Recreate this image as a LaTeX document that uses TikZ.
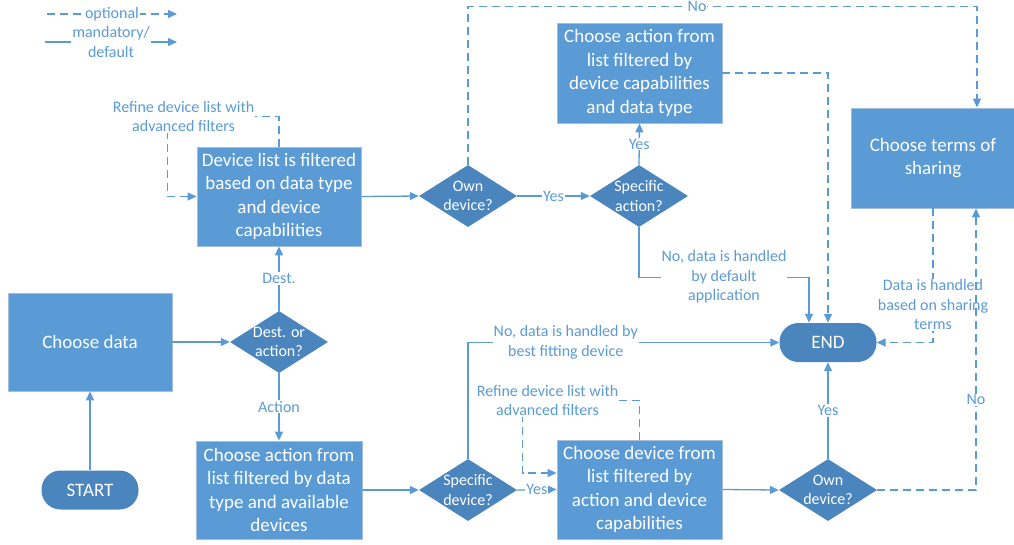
\documentclass[tikz,border=0pt]{standalone}
\usepackage{fontspec}
\setmainfont{Carlito}
\usetikzlibrary{arrows.meta,shapes.geometric,calc}
\definecolor{boxblue}{RGB}{91,155,213}
\definecolor{darkblue}{RGB}{74,133,190}
\definecolor{edgeblue}{RGB}{165,190,222}
\definecolor{lineblue}{RGB}{91,155,213}
\begin{document}
\begin{tikzpicture}[x=1pt,y=-1pt,
  box/.style={rectangle, fill=boxblue, draw=edgeblue, line width=0.8pt, text=white,
    align=center, inner sep=0pt, font=\fontsize{19}{23.5}\selectfont},
  decision/.style={diamond, fill=darkblue, minimum width=98pt, minimum height=62pt, inner sep=0pt},
  dtext/.style={text=white, align=center, font=\fontsize{16}{19.5}\selectfont},
  terminal/.style={rectangle, rounded corners=19pt, fill=darkblue, text=white,
    minimum width=97pt, minimum height=39pt, font=\fontsize{19}{23}\selectfont},
  link/.style={draw=lineblue, line width=1.3pt, -{Triangle[length=9pt,width=8pt]}},
  opt/.style={link, dash pattern=on 8pt off 5pt},
  lbl/.style={fill=white, text=lineblue, align=center, inner sep=1pt,
    font=\fontsize{16}{19.5}\selectfont},
]
\useasboundingbox (0,0) rectangle (1014,544);

% process boxes
\node[box, minimum width=164pt, minimum height=98pt] (data) at (90,342) {Choose data};
\node[box, minimum width=164pt, minimum height=99pt] (filt) at (279,196.5)
  {Device list is filtered\\based on data type\\and device\\capabilities};
\node[box, minimum width=166pt, minimum height=98pt] (act1) at (279,490)
  {Choose action from\\list filtered by data\\type and available\\devices};
\node[box, minimum width=165pt, minimum height=100pt] (act2) at (639.5,73)
  {Choose action from\\list filtered by\\device capabilities\\and data type};
\node[box, minimum width=164pt, minimum height=100pt] (terms) at (933,158)
  {Choose terms of\\sharing};
\node[box, minimum width=165pt, minimum height=99pt] (dev) at (639.5,489.5)
  {Choose device from\\list filtered by\\action and device\\capabilities};

% terminals
\node[terminal] (start) at (90,490) {START};
\node[terminal] (end) at (828,342.5) {END};

% decisions
\node[decision] (dq) at (279,342) {};
\node[dtext] at (dq) {Dest. or\\action?};
\node[decision] (own1) at (468,196) {};
\node[dtext] at (own1) {Own\\device?};
\node[decision] (spa) at (639,196) {};
\node[dtext] at (spa) {Specific\\action?};
\node[decision] (spd) at (468,490) {};
\node[dtext] at (spd) {Specific\\device?};
\node[decision] (own2) at (828,490) {};
\node[dtext] at (own2) {Own\\device?};

% legend
\coordinate (o1) at (47,14);
\coordinate (o2) at (177,14);
\draw[opt] (o1) -- node[lbl]{optional} (o2);
\coordinate (m1) at (45,42);
\coordinate (m2) at (177,42);
\draw[link] (m1) -- node[lbl]{mandatory/\\default} (m2);

% main flow
\draw[link] (start.north) -- (data.south);
\draw[link] (data.east) -- (dq.west);
\draw[link] (dq.north) -- node[lbl]{Dest.} (filt.south);
\draw[link] (dq.south) -- node[lbl]{Action} (act1.north);
\draw[link] (filt.east) -- (own1.west);
\draw[link] (own1.east) -- node[lbl]{Yes} (spa.west);
\draw[link] (spa.north) -- node[lbl]{Yes} (act2.south);
\draw[link] (spa.south) -- ++(0,50) -| node[lbl,pos=0.25]{No, data is handled\\by default\\application} ([xshift=-19pt]end.north);
\draw[opt] (act2.east) -| (end.north);
\draw[opt] (own1.north) -- ++(0,-158) -| node[lbl,pos=0.225,inner sep=0.5pt]{No} ([xshift=44pt]terms.north);
\draw[opt] (terms.south) |- node[lbl,pos=0.36]{Data is handled\\based on sharing\\terms} (end.east);

\draw[link] (act1.east) -- (spd.west);
\draw[link] (spd.north) |- node[lbl,pos=0.657]{No, data is handled by\\best fitting device} (end.west);
\draw[link] (spd.east) -- node[lbl]{Yes} (dev.west);
\draw[link] (dev.east) -- (own2.west);
\draw[link] (own2.north) -- node[lbl]{Yes} (end.south);
\draw[opt] (own2.east) -| node[lbl,pos=0.66]{No} ([xshift=43pt]terms.south);

% refinement loops
\draw[opt] (filt.north) -- ++(0,-30) -| node[lbl,pos=0.5,xshift=16pt]{Refine device list with\\advanced filters}
  ([xshift=-29pt]filt.west) -- (filt.west);
\draw[opt] (dev.north) -- ++(0,-39) -| node[lbl,pos=0.5,xshift=25pt]{Refine device list with\\advanced filters}
  ([xshift=-34pt,yshift=16.5pt]dev.west) -- ([yshift=16.5pt]dev.west);
\end{tikzpicture}
\end{document}
